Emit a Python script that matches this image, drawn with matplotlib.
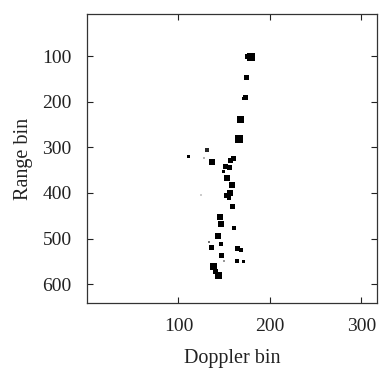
import matplotlib
matplotlib.use("Agg")
import matplotlib.pyplot as plt

# Detected returns: Doppler bin, range bin, blob width (pixels), grey level (0=black)
doppler = [178.8, 176.0, 174.7, 173.6, 171.5, 167.4, 166.0, 131.0, 110.6, 128.0,
           137.0, 160.0, 157.0, 151.0, 155.7, 148.7, 152.7, 158.6, 156.8, 152.0,
           155.0, 159.0, 124.5, 145.4, 146.5, 161.0, 143.6, 146.5, 136.6, 133.7,
           164.8, 168.5, 146.5, 150.0, 163.7, 171.4, 138.5, 143.6, 141.0]
range_bin = [102, 100, 147, 191, 194, 238, 282.5, 307, 320, 324,
             332, 325, 330, 341, 345, 352, 368, 383, 401, 406,
             411, 430, 405, 452, 467, 476, 495, 511, 520, 507,
             521, 524, 536, 550, 549, 551, 561, 580, 572]
width_px = [8, 5, 5, 5, 3, 7, 8, 4, 3, 2,
            6, 5, 5, 5, 5, 3, 6, 6, 6, 5,
            4, 5, 1.5, 6, 6, 4, 6, 4, 5, 2,
            5, 4, 5, 2, 4, 3, 7, 7, 5]
grey = [0.0, 0.0, 0.0, 0.0, 0.0, 0.0, 0.0, 0.15, 0.0, 0.7,
        0.0, 0.0, 0.0, 0.0, 0.0, 0.0, 0.0, 0.0, 0.0, 0.0,
        0.0, 0.0, 0.8, 0.0, 0.0, 0.0, 0.0, 0.0, 0.0, 0.45,
        0.0, 0.0, 0.0, 0.6, 0.0, 0.0, 0.0, 0.0, 0.0]

x_ticks = [100, 200, 300]
y_ticks = [100, 200, 300, 400, 500, 600]

plt.rcParams['font.family'] = ['Liberation Serif', 'DejaVu Serif']

fig = plt.figure(figsize=(3.79, 3.69), dpi=100)
ax = fig.add_axes([0.2296, 0.179, 0.765, 0.783])

sizes = [(w * 0.72) ** 2 for w in width_px]
colors = [(g, g, g) for g in grey]
ax.scatter(doppler, range_bin, s=sizes, c=colors, marker='s', linewidths=0)

ax.set_xlim(0, 317)
ax.set_ylim(641, 8)
ax.set_xticks(x_ticks)
ax.set_yticks(y_ticks)
ax.tick_params(direction='in', length=4, width=0.8, top=True, right=True,
               labelsize=14, colors='#222222')
ax.tick_params(axis='x', pad=11)
ax.tick_params(axis='y', pad=11)
for sp in ax.spines.values():
    sp.set_linewidth(0.9)
    sp.set_color('#333333')
ax.set_xlabel('Doppler bin', fontsize=14.5, color='#222222', labelpad=10)
ax.set_ylabel('Range bin', fontsize=14.5, color='#222222', labelpad=7)

fig.savefig('out.png', dpi=100)
